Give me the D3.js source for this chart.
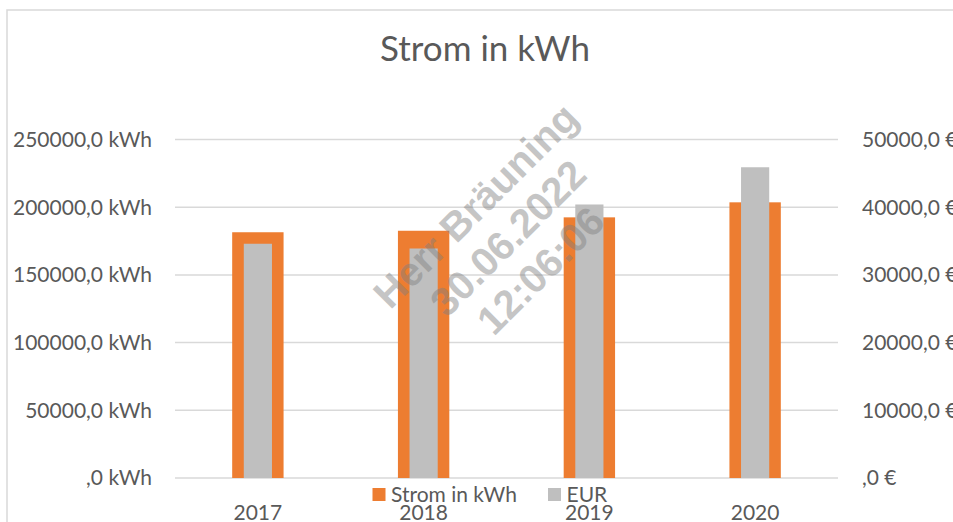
<!DOCTYPE html>
<html lang="de">
<head>
    <meta charset="UTF-8">
    <title>Strom in kWh</title>
    <script src="https://cdnjs.cloudflare.com/ajax/libs/d3/7.8.5/d3.min.js"></script>
    <style>
        body {
            margin: 0;
            background: #fff;
            overflow: hidden;
        }
        svg text {
            font-family: Lato, "Open Sans", sans-serif;
            fill: #595959;
        }
        .watermark text {
            font-family: "Liberation Sans", Arial, sans-serif;
            font-weight: bold;
            fill: #7f7f7f;
        }
    </style>
</head>
<body>
    <svg id="chart" width="953" height="522"></svg>

    <script>
        // values
        const years = ["2017", "2018", "2019", "2020"];
        const stromKWh = [181500, 182600, 192500, 203600];
        const eur = [34600, 33900, 40400, 45900];
        const kwhTicks = [0, 50000, 100000, 150000, 200000, 250000];
        const eurTicks = [0, 10000, 20000, 30000, 40000, 50000];
        const watermarkLines = ["Herr Bräuning", "30.06.2022", "12:06:06"];

        const svg = d3.select("#chart");
        const orange = "#ed7d31";
        const grey = "#bfbfbf";
        const gridColor = "#d9d9d9";

        const plot = { left: 175, right: 838, top: 139.5, bottom: 478 };

        // chart frame (runs past the right and bottom edge)
        svg.append("rect")
            .attr("x", 7).attr("y", 10)
            .attr("width", 1000).attr("height", 600)
            .attr("fill", "none")
            .attr("stroke", gridColor)
            .attr("stroke-width", 1.5);

        const x = d3.scaleBand()
            .domain(years)
            .range([plot.left, plot.right])
            .padding(0);

        const yL = d3.scaleLinear().domain([0, 250000]).range([plot.bottom, plot.top]);
        const yR = d3.scaleLinear().domain([0, 50000]).range([plot.bottom, plot.top]);

        const fmtKwh = v => (v === 0 ? "" : v) + ",0 kWh";
        const fmtEur = v => (v === 0 ? "" : v) + ",0 €";

        // gridlines
        svg.append("g")
            .selectAll("line")
            .data(kwhTicks)
            .join("line")
            .attr("x1", plot.left)
            .attr("x2", plot.right)
            .attr("y1", d => yL(d))
            .attr("y2", d => yL(d))
            .attr("stroke", gridColor)
            .attr("stroke-width", 1.5);

        // left axis labels
        svg.append("g")
            .selectAll("text")
            .data(kwhTicks)
            .join("text")
            .attr("x", 152)
            .attr("y", d => yL(d))
            .attr("dy", "0.35em")
            .attr("text-anchor", "end")
            .style("font-size", "21px")
            .text(fmtKwh);

        // right axis labels
        svg.append("g")
            .selectAll("text")
            .data(eurTicks)
            .join("text")
            .attr("x", 862)
            .attr("y", d => yR(d))
            .attr("dy", "0.35em")
            .attr("text-anchor", "start")
            .style("font-size", "21px")
            .text(fmtEur);

        const bw = x.bandwidth();
        const wideW = bw * 0.31;
        const narrowW = bw * 0.17;

        // kWh bars (primary axis)
        svg.append("g")
            .selectAll("rect")
            .data(years)
            .join("rect")
            .attr("x", (d) => x(d) + bw / 2 - wideW / 2)
            .attr("y", (d, i) => yL(stromKWh[i]))
            .attr("width", wideW)
            .attr("height", (d, i) => yL(0) - yL(stromKWh[i]))
            .attr("fill", orange);

        // EUR bars (secondary axis)
        svg.append("g")
            .selectAll("rect")
            .data(years)
            .join("rect")
            .attr("x", (d) => x(d) + bw / 2 - narrowW / 2)
            .attr("y", (d, i) => yR(eur[i]))
            .attr("width", narrowW)
            .attr("height", (d, i) => yR(0) - yR(eur[i]))
            .attr("fill", grey);

        // category labels
        svg.append("g")
            .selectAll("text")
            .data(years)
            .join("text")
            .attr("x", d => x(d) + bw / 2)
            .attr("y", 520)
            .attr("text-anchor", "middle")
            .style("font-size", "21px")
            .text(d => d);

        // title
        svg.append("text")
            .attr("x", 485)
            .attr("y", 61)
            .attr("text-anchor", "middle")
            .style("font-size", "35px")
            .text("Strom in kWh");

        // legend
        const legend = [
            { name: "Strom in kWh", color: orange, x: 372.5 },
            { name: "EUR", color: grey, x: 548 }
        ];
        const lg = svg.append("g");
        lg.selectAll("rect")
            .data(legend)
            .join("rect")
            .attr("x", d => d.x)
            .attr("y", 488)
            .attr("width", 13)
            .attr("height", 13)
            .attr("fill", d => d.color);
        lg.selectAll("text")
            .data(legend)
            .join("text")
            .attr("x", d => d.x + 18.5)
            .attr("y", 502)
            .style("font-size", "21px")
            .text(d => d.name);

        // watermark
        const wm = svg.append("g")
            .attr("class", "watermark")
            .attr("transform", "translate(508,238) rotate(-45)")
            .attr("opacity", 0.45);
        wm.selectAll("text")
            .data(watermarkLines)
            .join("text")
            .attr("x", 0)
            .attr("y", (d, i) => (i - 1) * 46)
            .attr("dy", "0.35em")
            .attr("text-anchor", "middle")
            .style("font-size", "40px")
            .text(d => d);
    </script>
</body>
</html>
